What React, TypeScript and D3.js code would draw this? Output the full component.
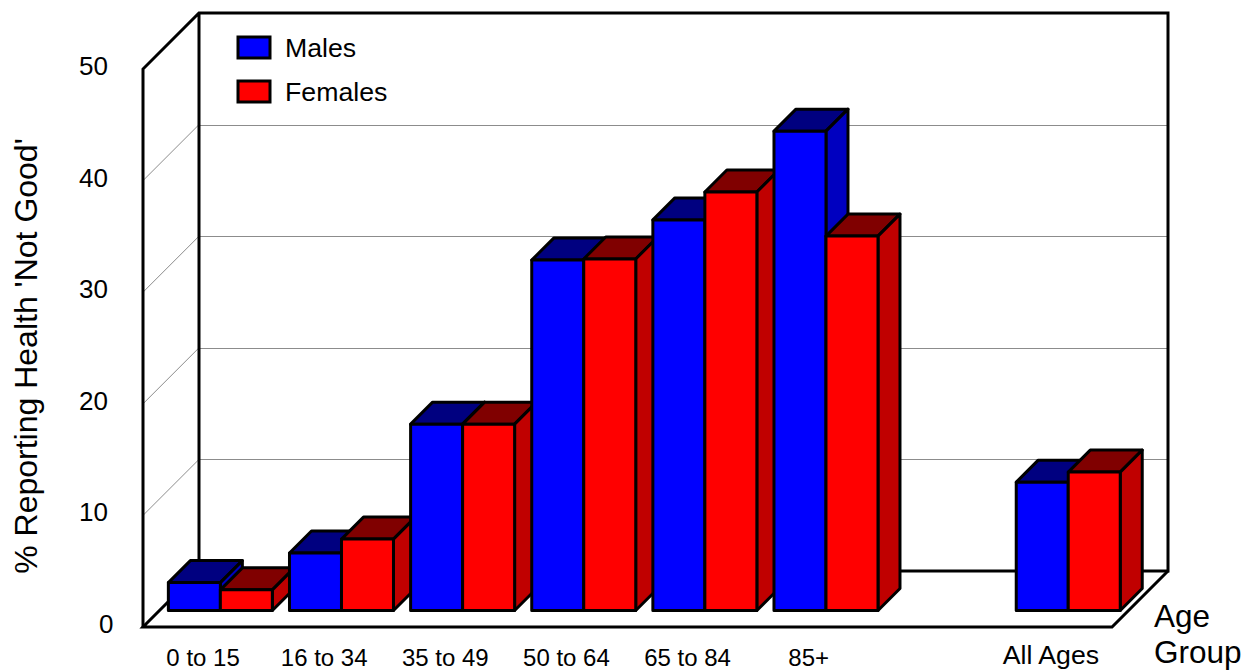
import React from 'react';
import * as d3 from 'd3';

const ageGroups = ['0 to 15', '16 to 34', '35 to 49', '50 to 64', '65 to 84', '85+', '', 'All Ages'];
const males = [2.5, 5.15, 16.7, 31.4, 35, 42.95, null, 11.5];
const females = [1.85, 6.4, 16.7, 31.5, 37.5, 33.55, null, 12.4];
const yTicks = [0, 10, 20, 30, 40, 50];
const gridTicks = [10, 20, 30, 40];
const legendItems = ['Males', 'Females'];

const blue = { front: '#0000ff', top: '#000080', side: '#0000c0' };
const red = { front: '#ff0000', top: '#800000', side: '#c00000' };

const width = 1244;
const height = 670;
const depth = 56; // wall depth
const barDepth = 22;
const barOffset = 16.5; // how far bars sit behind the front edge
const barWidth = 52;

const x = d3.scaleBand<string>().domain(ageGroups.map((d, i) => i + d)).range([143, 1112]);
const y = d3.scaleLinear().domain([0, 50]).range([627, 69]);
const x0 = 143;
const x1 = 1112;

const pts = (p: number[][]) => p.map(d => d.join(',')).join(' ');

const Bar = ({ left, value, colors }: any) => {
    const right = left + barWidth;
    const base = y(0) - barOffset;
    const top = base - (y(0) - y(value));
    return (
        <g stroke="#000" strokeWidth={3} strokeLinejoin="round">
            <polygon fill={colors.top} points={pts([[left, top], [left + barDepth, top - barDepth], [right + barDepth, top - barDepth], [right, top]])} />
            <polygon fill={colors.side} points={pts([[right, top], [right + barDepth, top - barDepth], [right + barDepth, base - barDepth], [right, base]])} />
            <rect fill={colors.front} x={left} y={top} width={barWidth} height={base - top} />
        </g>
    );
};

export default function App() {
    const keys = x.domain();
    const font = '"Liberation Sans", Arial, sans-serif';
    return (
        <svg width={width} height={height} style={{ position: 'absolute', left: 0, top: 0, background: '#fff' }} fontFamily={font}>
            {/* gridlines on the back and left walls */}
            {gridTicks.map(t => (
                <g key={t} stroke="#8c8c8c" strokeWidth={1} fill="none">
                    <line x1={x0 + depth} x2={x1 + depth} y1={Math.round(y(t) - depth) + 0.5} y2={Math.round(y(t) - depth) + 0.5} />
                    <line x1={x0} y1={y(t)} x2={x0 + depth} y2={y(t) - depth} />
                </g>
            ))}

            {/* chart frame */}
            <g stroke="#000" strokeWidth={3} fill="none">
                <polyline points={pts([[x0, y(0)], [x0, y(50)], [x0 + depth, y(50) - depth], [x1 + depth, y(50) - depth], [x1 + depth, y(0) - depth], [x0 + depth, y(0) - depth], [x0 + depth, y(50) - depth]])} />
                <polyline points={pts([[x0 + depth, y(0) - depth], [x0, y(0)], [x1, y(0)], [x1 + depth, y(0) - depth]])} />
            </g>

            {keys.map((k, i) => {
                const left = (x(k) as number) + (x.bandwidth() - 2 * barWidth) / 2 + barOffset + 0.3;
                const m = males[i];
                const f = females[i];
                if (m === null || f === null) return null;
                return (
                    <g key={k}>
                        <Bar left={left} value={m} colors={blue} />
                        <Bar left={left + barWidth} value={f} colors={red} />
                    </g>
                );
            })}

            {/* y axis labels, the 0 sits further right in the original */}
            {yTicks.map(t => (
                <text key={t} x={t === 0 ? 113.5 : 108} y={y(t) + 6} textAnchor="end" fontSize={26}>{t}</text>
            ))}
            <text transform="translate(37,356) rotate(-90)" textAnchor="middle" fontSize={32}>% Reporting Health 'Not Good'</text>

            {/* category labels */}
            {keys.map((k, i) => (
                <text key={k} x={(x(k) as number) + x.bandwidth() / 2 - 0.5} y={i === 7 ? 664 : 666} textAnchor="middle" fontSize={i === 7 ? 26.7 : 24}>{ageGroups[i]}</text>
            ))}
            <text x={1154} y={627} fontSize={31.5}>Age</text>
            <text x={1154} y={663} fontSize={31.5}>Group</text>

            {/* legend */}
            {legendItems.map((d, i) => (
                <g key={d}>
                    <rect x={238} y={37 + i * 44} width={32} height={21} fill={i === 0 ? blue.front : red.front} stroke="#000" strokeWidth={3} />
                    <text x={285} y={57 + i * 44} fontSize={26.7}>{d}</text>
                </g>
            ))}
        </svg>
    );
}
